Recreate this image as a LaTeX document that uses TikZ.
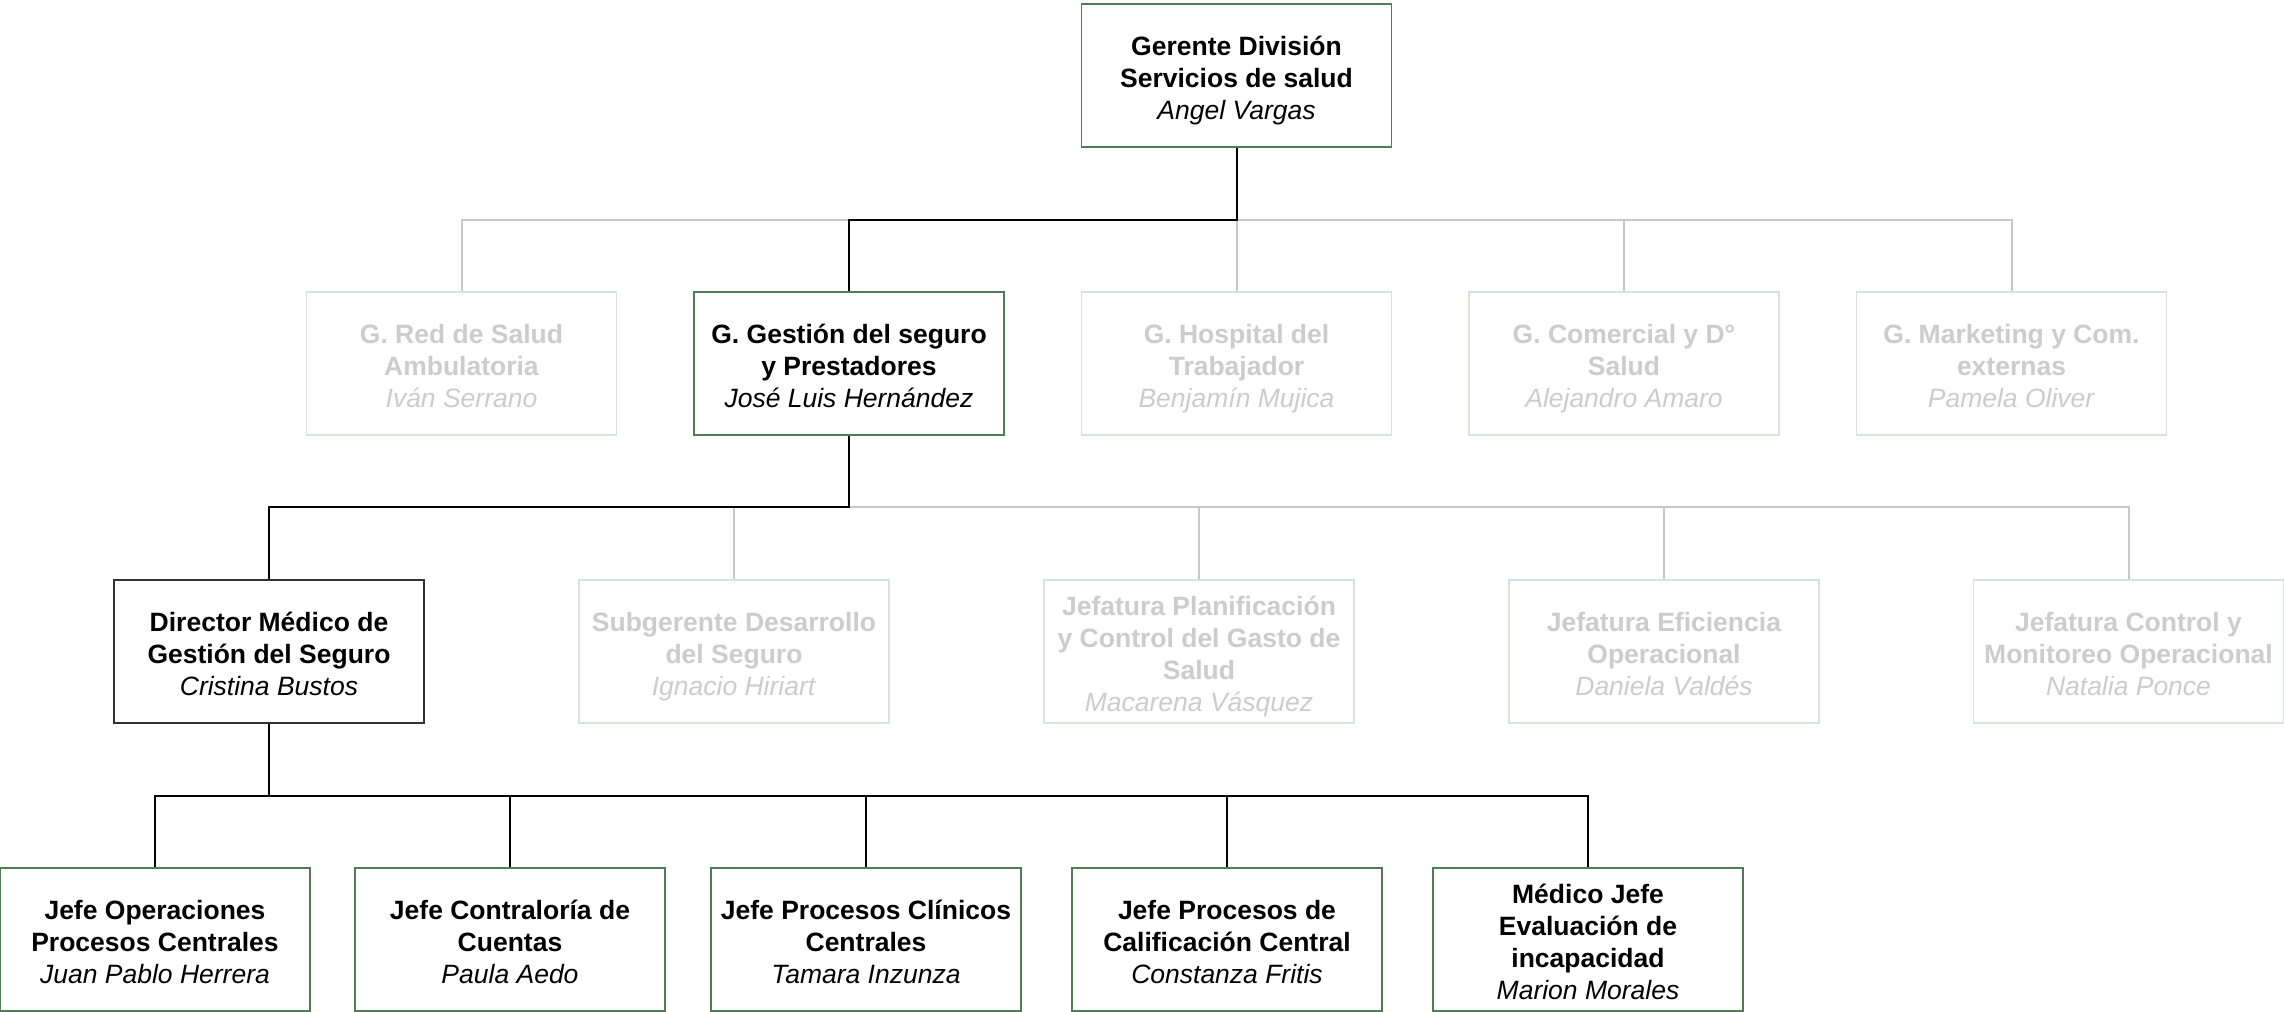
\documentclass[tikz,border=0pt]{standalone}
\usepackage{fontspec}
\setmainfont{Liberation Sans}
\definecolor{boxgreen}{RGB}{78,125,86}
\definecolor{dirgray}{RGB}{50,50,50}
\definecolor{lightbox}{RGB}{214,228,218}
\definecolor{graytext}{RGB}{204,204,204}
\definecolor{linegray}{RGB}{200,200,200}
\newcommand{\orgT}{\rule{0pt}{30.5pt}}
\newcommand{\orgB}{\rule[-7pt]{0pt}{7pt}}
\tikzset{
  orgbox/.style={rectangle, minimum width=310pt, minimum height=143pt, inner sep=0pt,
    align=center, font=\fontsize{26.5}{32}\selectfont, line width=1.5pt},
  actbox/.style={orgbox, draw=boxgreen, text=black},
  dirbox/.style={orgbox, draw=dirgray, text=black},
  inactbox/.style={orgbox, draw=lightbox, text=graytext},
  blkline/.style={draw=black, line width=2pt},
  gryline/.style={draw=linegray, line width=2pt},
}
\begin{document}
\begin{tikzpicture}[x=1pt,y=-1pt]
\fill[white] (0,0) rectangle (2284,1012);
\useasboundingbox (0,0) rectangle (2284,1012);

% Row 1
\node[actbox] (top) at (1236.5,75.5) {\orgT\textbf{Gerente División}\\\textbf{Servicios de salud}\\\textit{Angel Vargas}\orgB};

% Row 2
\node[inactbox] (red) at (461.5,363.5) {\orgT\textbf{G. Red de Salud}\\\textbf{Ambulatoria}\\\textit{Iván Serrano}\orgB};
\node[actbox] (gest) at (849,363.5) {\orgT\textbf{G. Gestión del seguro}\\\textbf{y Prestadores}\\\textit{José Luis Hernández}\orgB};
\node[inactbox] (hosp) at (1236.5,363.5) {\orgT\textbf{G. Hospital del}\\\textbf{Trabajador}\\\textit{Benjamín Mujica}\orgB};
\node[inactbox] (com) at (1624,363.5) {\orgT\textbf{G. Comercial y D°}\\\textbf{Salud}\\\textit{Alejandro Amaro}\orgB};
\node[inactbox] (mkt) at (2011.5,363.5) {\orgT\textbf{G. Marketing y Com.}\\\textbf{externas}\\\textit{Pamela Oliver}\orgB};

% Row 3
\node[dirbox] (dir) at (269,651.5) {\orgT\textbf{Director Médico de}\\\textbf{Gestión del Seguro}\\\textit{Cristina Bustos}\orgB};
\node[inactbox] (sub) at (734,651.5) {\orgT\textbf{Subgerente Desarrollo}\\\textbf{del Seguro}\\\textit{Ignacio Hiriart}\orgB};
\node[inactbox] (plan) at (1199,651.5) {\orgT\textbf{Jefatura Planificación}\\\textbf{y Control del Gasto de}\\\textbf{Salud}\\\textit{Macarena Vásquez}\orgB};
\node[inactbox] (efi) at (1664,651.5) {\orgT\textbf{Jefatura Eficiencia}\\\textbf{Operacional}\\\textit{Daniela Valdés}\orgB};
\node[inactbox] (ctrl) at (2128.5,651.5) {\orgT\textbf{Jefatura Control y}\\\textbf{Monitoreo Operacional}\\\textit{Natalia Ponce}\orgB};

% Row 4
\node[actbox] (j1) at (155,939.5) {\orgT\textbf{Jefe Operaciones}\\\textbf{Procesos Centrales}\\\textit{Juan Pablo Herrera}\orgB};
\node[actbox] (j2) at (510,939.5) {\orgT\textbf{Jefe Contraloría de}\\\textbf{Cuentas}\\\textit{Paula Aedo}\orgB};
\node[actbox] (j3) at (866,939.5) {\orgT\textbf{Jefe Procesos Clínicos}\\\textbf{Centrales}\\\textit{Tamara Inzunza}\orgB};
\node[actbox] (j4) at (1227,939.5) {\orgT\textbf{Jefe Procesos de}\\\textbf{Calificación Central}\\\textit{Constanza Fritis}\orgB};
\node[actbox] (j5) at (1588,939.5) {\orgT\textbf{Médico Jefe}\\\textbf{Evaluación de}\\\textbf{incapacidad}\\\textit{Marion Morales}\orgB};

% bus levels
\coordinate (b1) at (0,220);
\coordinate (b2) at (0,507);
\coordinate (b3) at (0,796);

% gray connectors
\draw[gryline] (red.north) -- (red.north |- b1) -- (mkt.north |- b1) -- (mkt.north);
\draw[gryline] (hosp.north) -- (hosp.north |- b1);
\draw[gryline] (com.north) -- (com.north |- b1);
\draw[gryline] (gest.south |- b2) -- (ctrl.north |- b2) -- (ctrl.north);
\draw[gryline] (sub.north) -- (sub.north |- b2);
\draw[gryline] (plan.north) -- (plan.north |- b2);
\draw[gryline] (efi.north) -- (efi.north |- b2);

% black connectors
\draw[blkline] (top.south) -- (top.south |- b1) -| (gest.north);
\draw[blkline] (gest.south) -- (gest.south |- b2) -| (dir.north);
\draw[blkline] (dir.south) -- (dir.south |- b3);
\draw[blkline] (j1.north) -- (j1.north |- b3) -- (j5.north |- b3) -- (j5.north);
\draw[blkline] (j2.north) -- (j2.north |- b3);
\draw[blkline] (j3.north) -- (j3.north |- b3);
\draw[blkline] (j4.north) -- (j4.north |- b3);
\end{tikzpicture}
\end{document}
